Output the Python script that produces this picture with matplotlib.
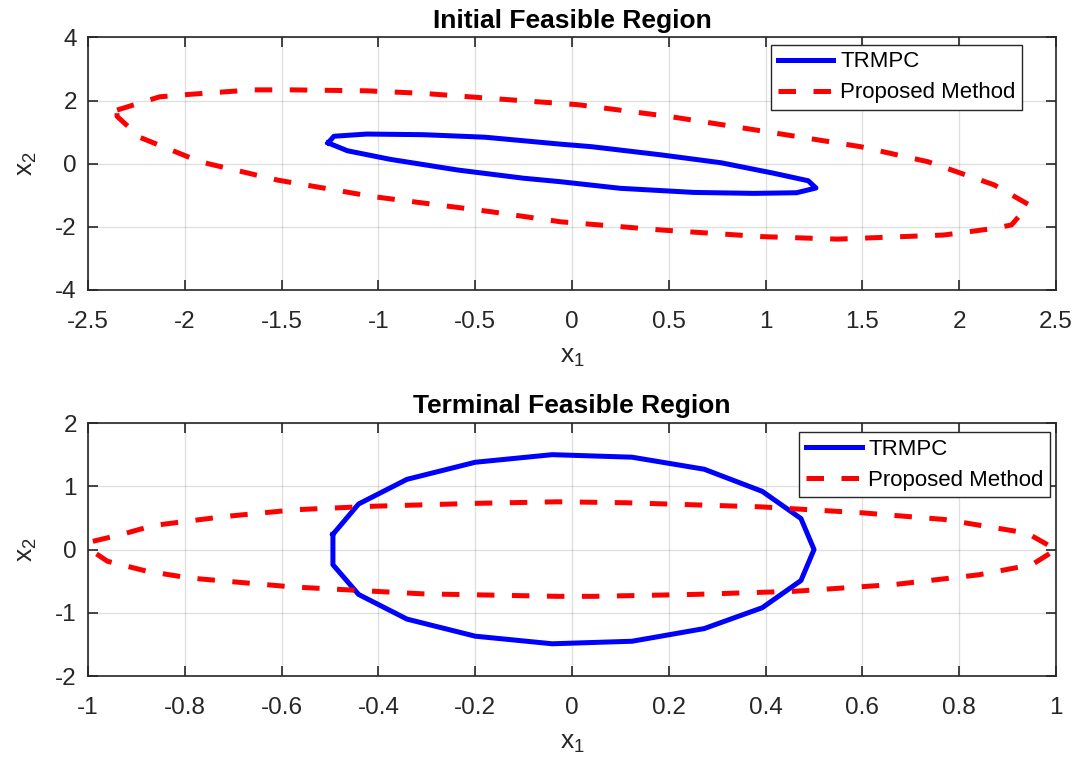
import numpy as np
import matplotlib
matplotlib.use("Agg")
import matplotlib.pyplot as plt
from matplotlib.ticker import FuncFormatter

plt.rcParams['font.family'] = ['Liberation Sans', 'DejaVu Sans']
plt.rcParams['axes.unicode_minus'] = False
plt.rcParams['mathtext.fontset'] = 'custom'
plt.rcParams['mathtext.rm'] = 'Liberation Sans'

# initial feasible region, TRMPC (closed polygon)
init_trmpc_x = [-1.26, -1.23, -1.06, -0.77, -0.45, -0.06, 0.10, 0.46, 0.77, 1.04, 1.22, 1.26,
                1.16, 0.94, 0.63, 0.25, -0.06, -0.25, -0.59, -0.94, -1.16, -1.26]
init_trmpc_y = [0.66, 0.87, 0.94, 0.92, 0.84, 0.62, 0.54, 0.28, 0.03, -0.30, -0.54, -0.77,
                -0.92, -0.94, -0.91, -0.78, -0.57, -0.46, -0.20, 0.14, 0.41, 0.66]

# initial feasible region, proposed method
init_prop_x = [-2.35, -2.13, -1.97, -1.65, -1.45, -1.06, -0.77, -0.42, 0.03, 0.51, 1.01, 1.49,
               1.84, 2.18, 2.36, 2.27, 2.18, 1.92, 1.37, 0.98, 0.46, -0.06, -0.42, -1.03,
               -1.52, -1.92, -2.23, -2.35, -2.35]
init_prop_y = [1.70, 2.12, 2.20, 2.34, 2.34, 2.31, 2.23, 2.07, 1.87, 1.49, 1.01, 0.54,
               0.06, -0.67, -1.30, -1.94, -2.05, -2.26, -2.39, -2.31, -2.10, -1.84, -1.52, -1.04,
               -0.52, 0.06, 0.83, 1.50, 1.70]

# terminal feasible region, TRMPC
term_trmpc_x = [-0.494, -0.494, -0.441, -0.341, -0.200, -0.041, 0.124, 0.273, 0.393, 0.473, 0.500,
                0.473, 0.393, 0.273, 0.124, -0.041, -0.200, -0.341, -0.441, -0.494]
term_trmpc_y = [0.24, -0.24, -0.71, -1.10, -1.37, -1.49, -1.45, -1.25, -0.92, -0.49, 0.00,
                0.49, 0.92, 1.27, 1.46, 1.50, 1.38, 1.11, 0.72, 0.24]

# terminal feasible region, proposed method
term_prop_x = [-0.99, -0.93, -0.865, -0.72, -0.57, -0.41, -0.20, -0.03, 0.11, 0.39, 0.60, 0.77,
               0.94, 1.00, 0.95, 0.84, 0.67, 0.46, 0.25, 0.045, -0.03, -0.31, -0.58, -0.79,
               -0.88, -0.96, -0.99, -0.99]
term_prop_y = [0.13, 0.24, 0.38, 0.52, 0.63, 0.685, 0.73, 0.755, 0.74, 0.675, 0.58, 0.475,
               0.26, 0.00, -0.24, -0.40, -0.55, -0.66, -0.71, -0.74, -0.74, -0.70, -0.59, -0.45,
               -0.34, -0.185, -0.03, 0.13]

panels = [
    ("Initial Feasible Region", init_trmpc_x, init_trmpc_y, init_prop_x, init_prop_y,
     (-2.5, 2.5), np.arange(-2.5, 2.51, 0.5), (-4, 4), np.arange(-4, 4.1, 2)),
    ("Terminal Feasible Region", term_trmpc_x, term_trmpc_y, term_prop_x, term_prop_y,
     (-1, 1), np.arange(-1, 1.01, 0.2), (-2, 2), np.arange(-2, 2.1, 1)),
]

fig = plt.figure(figsize=(10.84, 7.65), dpi=100)
rects = [[0.0812, 0.621, 0.893, 0.330], [0.0812, 0.1163, 0.893, 0.3307]]
legend_anchor = [(0.965, 0.971), (0.994, 0.964)]


def tick_fmt(v, pos):
    v = round(v, 6)
    if v == 0:
        v = 0.0
    return '%g' % abs(v) if v == 0 else '%g' % v


fmt = FuncFormatter(tick_fmt)

for i, (title, tx, ty, px, py, xl, xt, yl, yt) in enumerate(panels):
    ax = fig.add_axes(rects[i])
    ax.plot(tx, ty, color='b', lw=3.6, label='TRMPC')
    ax.plot(px, py, color='r', lw=3.6, ls=(0, (3.5, 3.5)), label='Proposed Method')
    ax.set_xlim(xl)
    ax.set_ylim(yl)
    ax.set_xticks(xt)
    ax.set_yticks(yt)
    ax.xaxis.set_major_formatter(fmt)
    ax.yaxis.set_major_formatter(fmt)
    ax.grid(True, color='k', alpha=0.12, lw=1)
    ax.tick_params(direction='in', length=7, width=1.2, top=True, right=True,
                   labelsize=17.5, colors='0.15')
    ax.tick_params(axis='x', pad=15)
    ax.tick_params(axis='y', pad=8)
    for s in ax.spines.values():
        s.set_color('0.15')
        s.set_linewidth(1.2)
    ax.set_title(title, fontsize=19, fontweight='bold', pad=7)
    ax.set_xlabel(r'$\mathregular{x_1}$', fontsize=19, color='0.15', labelpad=9)
    ax.set_ylabel(r'$\mathregular{x_2}$', fontsize=19, color='0.15', labelpad=12)
    leg = ax.legend(loc='upper right', bbox_to_anchor=legend_anchor[i], fontsize=16,
                    handlelength=2.5, handletextpad=0.3, borderpad=0.3,
                    labelspacing=0.45, fancybox=False, framealpha=1, borderaxespad=0)
    leg.get_frame().set_edgecolor('0.15')
    leg.get_frame().set_linewidth(1.0)

fig.savefig('out.png', dpi=100)
